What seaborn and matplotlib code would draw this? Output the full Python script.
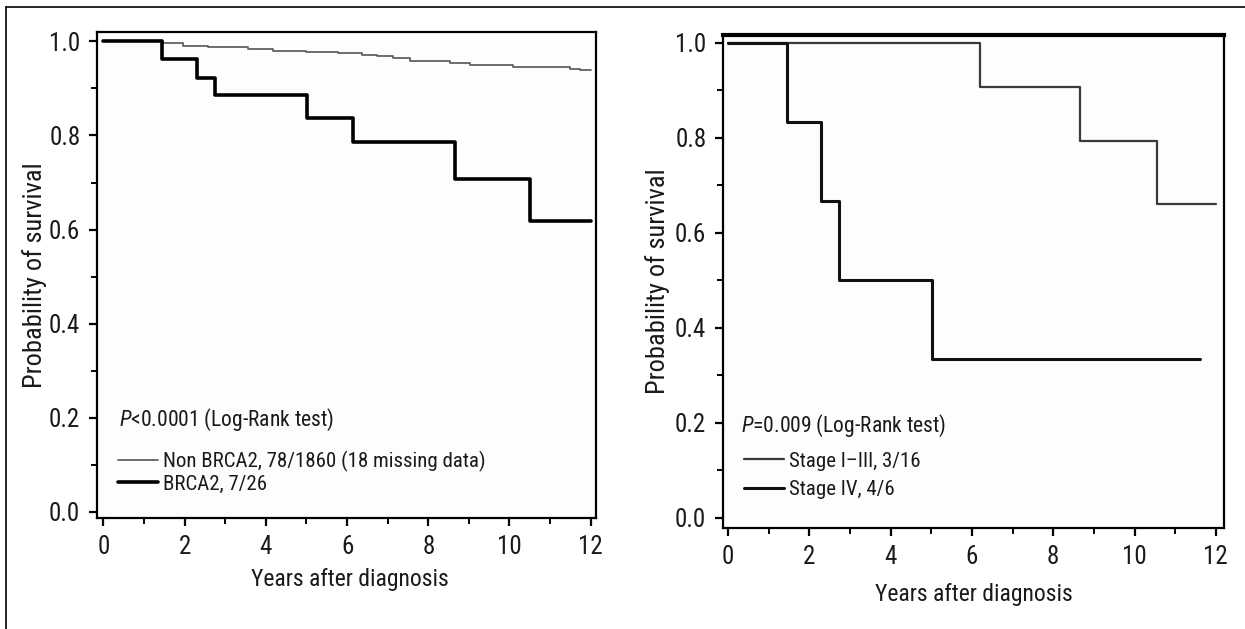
import numpy as np
import pandas as pd
import matplotlib
matplotlib.use("Agg")
import matplotlib.pyplot as plt
from matplotlib.lines import Line2D
from matplotlib.ticker import MultipleLocator
import seaborn as sns

# Kaplan-Meier curves
non_brca2_t = [0, 1.47, 1.96, 2.57, 3.56, 4.17, 5.0, 5.77, 6.37, 6.73, 7.13, 7.55, 8.54, 9.03, 10.09, 11.49, 11.74, 12.0]
non_brca2_s = [1.0, 0.996, 0.991, 0.988, 0.983, 0.980, 0.977, 0.975, 0.971, 0.968, 0.964, 0.959, 0.955, 0.949, 0.946, 0.942, 0.939, 0.939]

brca2_t = [0, 1.45, 2.3, 2.75, 5.02, 6.15, 8.65, 10.5, 12.0]
brca2_s = [1.0, 0.962, 0.923, 0.885, 0.838, 0.786, 0.707, 0.619, 0.619]

stage13_t = [0, 6.2, 8.65, 10.55, 12.0]
stage13_s = [1.0, 0.907, 0.792, 0.66, 0.66]

stage4_t = [0, 1.45, 2.29, 2.73, 5.03, 11.6]
stage4_s = [1.0, 0.833, 0.667, 0.5, 0.335, 0.335]

labels_left = ["Non BRCA2, 78/1860 (18 missing data)", "BRCA2, 7/26"]
labels_right = ["Stage I\u2013III, 3/16", "Stage IV, 4/6"]

sns.set_theme(style="ticks")
fam = ["Roboto Condensed", "Liberation Sans", "DejaVu Sans"]
plt.rcParams["font.family"] = fam
plt.rcParams["mathtext.fontset"] = "custom"
plt.rcParams["mathtext.rm"] = "Roboto Condensed"
plt.rcParams["mathtext.it"] = "Roboto Condensed:italic"

df_left = pd.concat([
    pd.DataFrame({"t": non_brca2_t, "s": non_brca2_s, "grp": labels_left[0]}),
    pd.DataFrame({"t": brca2_t, "s": brca2_s, "grp": labels_left[1]}),
])
df_right = pd.concat([
    pd.DataFrame({"t": stage13_t, "s": stage13_s, "grp": labels_right[0]}),
    pd.DataFrame({"t": stage4_t, "s": stage4_s, "grp": labels_right[1]}),
])

fig = plt.figure(figsize=(12.45, 6.29), dpi=100)
ax1 = fig.add_axes([0.0779, 0.1765, 0.4008, 0.7727])
ax2 = fig.add_axes([0.5807, 0.1606, 0.4024, 0.7838])

sns.lineplot(data=df_left, x="t", y="s", hue="grp", size="grp",
             palette={labels_left[0]: "#555555", labels_left[1]: "black"},
             sizes={labels_left[0]: 1.2, labels_left[1]: 2.6},
             drawstyle="steps-post", estimator=None, ax=ax1)
sns.lineplot(data=df_right, x="t", y="s", hue="grp", size="grp",
             palette={labels_right[0]: "#3a3a3a", labels_right[1]: "#111111"},
             sizes={labels_right[0]: 1.6, labels_right[1]: 2.2},
             drawstyle="steps-post", estimator=None, ax=ax2)

ax1.set_xlim(-0.16, 12.13)
ax1.set_ylim(-0.013, 1.02)
ax2.set_xlim(-0.123, 12.2)
ax2.set_ylim(-0.021, 1.016)

ptext = [r"$\mathit{P}$<0.0001 (Log-Rank test)", r"$\mathit{P}$=0.009 (Log-Rank test)"]
ptext_pos = [(0.37, 0.196), (0.33, 0.194)]
legend_anchor = [(0.005, 0.012), (0.005, 0.020)]
legend_spacing = [0.1, 0.47]

for i, ax in enumerate([ax1, ax2]):
    ax.set_facecolor("#fdfdfd")
    ax.set_xticks(np.arange(0, 13, 2))
    ax.set_yticks(np.arange(0, 1.01, 0.2))
    ax.set_yticklabels([f"{v:.1f}" for v in np.arange(0, 1.01, 0.2)])
    ax.xaxis.set_minor_locator(MultipleLocator(1))
    ax.yaxis.set_minor_locator(MultipleLocator(0.1))
    ax.tick_params(which="major", direction="out", length=6, width=1.6, labelsize=18, pad=6, color="black", labelcolor="#1a1a1a")
    ax.tick_params(which="minor", direction="out", length=4, width=1.4, color="black")
    ax.tick_params(top=False, right=False, which="both")
    for sp in ax.spines.values():
        sp.set_visible(True)
        sp.set_linewidth(1.6)
        sp.set_color("black")
    ax.set_xlabel("Years after diagnosis", fontsize=17, color="#1a1a1a")
    ax.set_ylabel("Probability of survival", fontsize=19, color="#1a1a1a")
    ax.text(ptext_pos[i][0], ptext_pos[i][1], ptext[i], fontsize=15.5, va="center", ha="left", color="#1a1a1a")
    leg = ax.legend(loc="lower left", bbox_to_anchor=legend_anchor[i], frameon=False,
                    fontsize=15, handlelength=1.9, handletextpad=0.25, labelspacing=legend_spacing[i])
    for t in leg.get_texts():
        t.set_color("#1a1a1a")

ax1.yaxis.set_label_coords(-0.101, 0.5)
ax1.xaxis.set_label_coords(0.507, -0.103)
ax2.yaxis.set_label_coords(-0.105, 0.5)
ax2.xaxis.set_label_coords(0.5, -0.111)
ax2.spines["top"].set_linewidth(3.0)

# outer frame of the figure (left and top edges)
fig.add_artist(Line2D([0.005, 0.005], [0.0, 0.989], transform=fig.transFigure, color="black", lw=1.2))
fig.add_artist(Line2D([0.005, 1.0], [0.989, 0.989], transform=fig.transFigure, color="black", lw=1.2))

fig.savefig("out.png", dpi=100)
